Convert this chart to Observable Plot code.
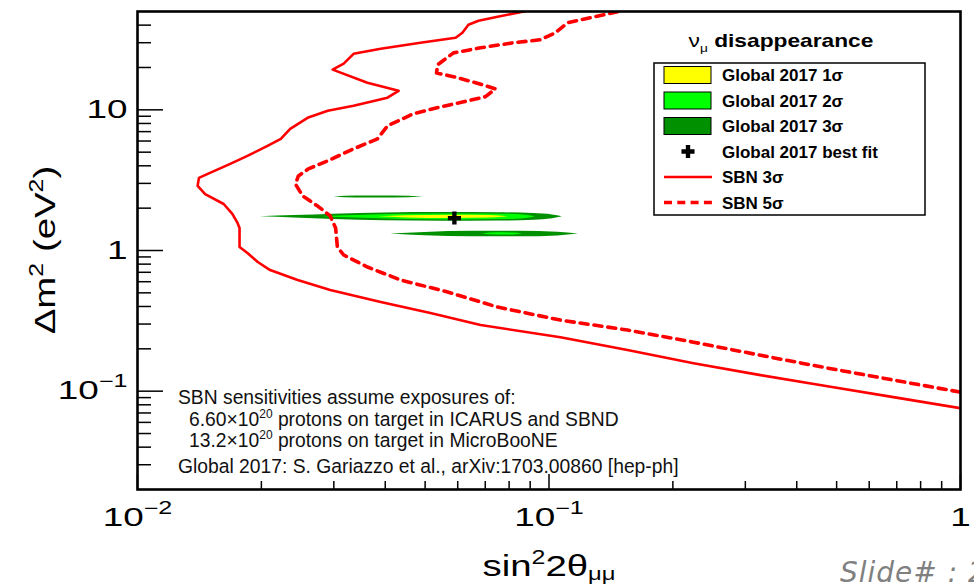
<!DOCTYPE html>
<html><head><meta charset="utf-8">
<script src="https://cdn.jsdelivr.net/npm/d3@7"></script>
<script src="https://cdn.jsdelivr.net/npm/@observablehq/plot@0.6"></script>
<style>
html,body{margin:0;padding:0;background:#fff;overflow:hidden;}
#chart{position:relative;width:974px;height:586px;overflow:hidden;}
</style></head><body><div id="chart"></div>
<script>
// ---- SBN sensitivity contours (sin^2 2theta, dm^2) ----
const sbn3X = [0.0887,0.0750,0.0674,0.0637,0.0616,0.0593,0.0487,0.0390,0.0335,0.0317,0.0298,0.0362,0.0431,0.0405,0.0335,0.0290,0.0259,0.0235,0.0223,0.0207,0.0185,0.0168,0.0150,0.0141,0.0140,0.0146,0.0162,0.0170,0.0175,0.0177,0.0177,0.0185,0.0196,0.0210,0.0245,0.0294,0.0390,0.0515,0.0682,0.1066,0.1551,0.2245,0.3266,0.475,0.687,1.0];
const sbn3Y = [50.6,45.9,43.0,40.3,35.3,32.5,30.0,27.2,25.0,21.3,19.3,15.6,13.65,12.2,10.7,9.84,8.77,7.32,6.22,5.54,4.71,4.13,3.56,3.28,2.88,2.52,2.14,1.82,1.57,1.446,1.059,0.960,0.828,0.726,0.617,0.524,0.430,0.359,0.295,0.242,0.196,0.158,0.130,0.1085,0.0907,0.0757];
const sbn5X = [0.1467,0.1261,0.1109,0.1037,0.0954,0.0820,0.0682,0.0586,0.0536,0.0533,0.0586,0.0663,0.0741,0.0701,0.0620,0.0545,0.0468,0.0405,0.0383,0.0335,0.0290,0.0260,0.0246,0.0242,0.0252,0.0274,0.0294,0.0303,0.0306,0.0317,0.0362,0.0436,0.0567,0.0750,0.1066,0.1551,0.2245,0.3266,0.475,0.687,1.0];
const sbn5Y = [49.8,45.2,41.6,35.3,31.5,30.0,27.6,25.4,20.9,18.3,17.2,15.6,14.1,12.4,11.4,10.5,9.37,7.69,6.22,5.28,4.34,3.80,3.39,2.97,2.44,2.07,1.76,1.446,1.059,0.929,0.763,0.617,0.507,0.396,0.320,0.272,0.223,0.180,0.146,0.120,0.0984];

// ---- Global 2017 allowed islands: x, lower dm^2, upper dm^2 ----
const midC3X  = [0.0199,0.024,0.030,0.040,0.055,0.075,0.092,0.102,0.1078];
const midC3Lo = [1.735,1.70,1.66,1.625,1.615,1.62,1.64,1.68,1.735];
const midC3Hi = [1.735,1.77,1.81,1.85,1.86,1.855,1.83,1.79,1.735];
const midC2X  = [0.0282,0.034,0.045,0.060,0.078,0.088,0.0927];
const midC2Lo = [1.735,1.70,1.66,1.65,1.66,1.69,1.735];
const midC2Hi = [1.735,1.77,1.81,1.82,1.81,1.78,1.735];
const midC1X  = [0.0385,0.045,0.058,0.072,0.0797];
const midC1Lo = [1.735,1.705,1.688,1.70,1.735];
const midC1Hi = [1.735,1.765,1.782,1.77,1.735];
const topC3X  = [0.0300,0.034,0.042,0.0495];
const topC3Lo = [2.40,2.36,2.36,2.40];
const topC3Hi = [2.40,2.44,2.44,2.40];
const botC3X  = [0.0412,0.050,0.065,0.085,0.105,0.1179];
const botC3Lo = [1.31,1.275,1.252,1.25,1.27,1.31];
const botC3Hi = [1.31,1.345,1.37,1.372,1.35,1.31];
const botC2X  = [0.0689,0.075,0.082,0.0862];
const botC2Lo = [1.31,1.287,1.29,1.31];
const botC2Hi = [1.31,1.335,1.332,1.31];
const bestFitX = [0.0589];
const bestFitY = [1.70];

// ---- ticks ----
const xTickValues = [0.01, 0.1, 1];
const xTickLabels = ["10^−2", "10^−1", "1"];
const yTickValues = [0.1, 1, 10];
const yTickLabels = ["10^−1", "1", "10"];
const xMinorTicks = [0.02,0.03,0.04,0.05,0.06,0.07,0.08,0.09,0.2,0.3,0.4,0.5,0.6,0.7,0.8,0.9];
const yMinorTicks = [0.03,0.04,0.05,0.06,0.07,0.08,0.09,0.2,0.3,0.4,0.5,0.6,0.7,0.8,0.9,2,3,4,5,6,7,8,9,20,30,40];

// ---- texts ----
const legendTitle = ["ν", "μ", " disappearance"];
const legendLabels = ["Global 2017 1σ", "Global 2017 2σ", "Global 2017 3σ", "Global 2017 best fit", "SBN 3σ", "SBN 5σ"];
const noteLines = [
  [["SBN sensitivities assume exposures of:"]],
  [["6.60×10"], ["20", "sup"], [" protons on target in ICARUS and SBND"]],
  [["13.2×10"], ["20", "sup"], [" protons on target in MicroBooNE"]],
  [["Global 2017: S. Gariazzo et al., arXiv:1703.00860 [hep-ph]"]]
];

const C1 = "#ffff00", C2 = "#00ff00", C3 = "#009000", RED = "#ff0000";

const toPts = (xs, ys) => xs.map((x, i) => ({x, y: ys[i]}));
const toBand = (id, xs, lo, hi) => xs.map((x, i) => ({id, x, lo: lo[i], hi: hi[i]}));
const sbn3 = toPts(sbn3X, sbn3Y);
const sbn5 = toPts(sbn5X, sbn5Y);
const c3 = [...toBand("m", midC3X, midC3Lo, midC3Hi), ...toBand("t", topC3X, topC3Lo, topC3Hi), ...toBand("b", botC3X, botC3Lo, botC3Hi)];
const c2 = [...toBand("m", midC2X, midC2Lo, midC2Hi), ...toBand("b", botC2X, botC2Lo, botC2Hi)];
const c1 = toBand("m", midC1X, midC1Lo, midC1Hi);
const best = toPts(bestFitX, bestFitY);

const W = 974, H = 586, ML = 137, MR = 14, MT = 11, MB = 97;
const PW = W - ML - MR, PH = H - MT - MB;
const FONT = "'Liberation Sans', Arial, Helvetica, sans-serif";

const svg = Plot.plot({
  width: W, height: H,
  marginLeft: ML, marginRight: MR, marginTop: MT, marginBottom: MB,
  style: {background: "white", fontFamily: FONT, color: "black"},
  x: {type: "log", domain: [0.01, 1]},
  y: {type: "log", domain: [0.02, 50]},
  marks: [
    Plot.areaY(c3, {x: "x", y1: "lo", y2: "hi", z: "id", fill: C3, curve: "monotone-x"}),
    Plot.areaY(c2, {x: "x", y1: "lo", y2: "hi", z: "id", fill: C2, curve: "monotone-x"}),
    Plot.areaY(c1, {x: "x", y1: "lo", y2: "hi", z: "id", fill: C1, curve: "monotone-x"}),
    Plot.line(sbn3, {x: "x", y: "y", stroke: RED, strokeWidth: 2.6, clip: true}),
    Plot.line(sbn5, {x: "x", y: "y", stroke: RED, strokeWidth: 3.6, strokeDasharray: "8,6", clip: true}),
    Plot.dot(best, {x: "x", y: "y", symbol: "cross", r: 5.5, fill: "black", stroke: "none"}),
    Plot.tickY(yTickValues, {y: d => d, insetRight: PW - 26, stroke: "black", strokeWidth: 1.5}),
    Plot.tickY(yMinorTicks, {y: d => d, insetRight: PW - 14, stroke: "black", strokeWidth: 1.5}),
    Plot.tickX(xTickValues, {x: d => d, insetTop: PH - 15, stroke: "black", strokeWidth: 1.5}),
    Plot.tickX(xMinorTicks, {x: d => d, insetTop: PH - 8, stroke: "black", strokeWidth: 1.5}),
    Plot.axisX({ticks: xTickValues, tickSize: 0, tickPadding: 18, label: null,
      tickFormat: d => xTickLabels[xTickValues.indexOf(d)], fontSize: 26}),
    Plot.axisY({ticks: yTickValues, tickSize: 0, tickPadding: 10, label: null,
      tickFormat: d => yTickLabels[yTickValues.indexOf(d)], fontSize: 26}),
    Plot.frame({stroke: "black", strokeWidth: 2.6})
  ]
});
document.getElementById("chart").appendChild(svg);

const root = d3.select(svg);

// rich text helper: parts [{t, off (px, neg = up), s (size factor), w}]
function rich(sel, parts, fs) {
  let cur = 0;
  for (const p of parts) {
    const off = p.off || 0;
    const ts = sel.append("tspan").text(p.t);
    if (off - cur !== 0) ts.attr("dy", off - cur);
    cur = off;
    if (p.s) ts.attr("font-size", fs * p.s);
    if (p.w) ts.attr("font-weight", p.w);
  }
}

// tick labels: superscripts + horizontal stretch
root.selectAll('g[aria-label="x-axis tick label"], g[aria-label="y-axis tick label"]')
  .attr("font-size", 26).attr("fill", "black").attr("font-family", FONT).style("font-family", FONT);
root.selectAll('g[aria-label="x-axis tick label"] text, g[aria-label="y-axis tick label"] text').each(function() {
  const el = d3.select(this);
  const str = el.text();
  const [base, exp] = str.split("^");
  el.text("");
  const parts = [{t: base}];
  if (exp) parts.push({t: exp, off: -12, s: 0.68});
  rich(el, parts, 26);
  el.attr("font-size", 26).attr("font-family", FONT).style("font-family", FONT).style("font-variant", "normal");
  const tr = el.attr("transform") || "";
  el.attr("transform", tr + " scale(1.42,1)");
});

// axis titles
const yt = root.append("text").attr("transform", "translate(55,250) rotate(-90) scale(1.28,1)")
  .attr("text-anchor", "middle").attr("font-size", 30).attr("font-family", FONT).attr("fill", "black");
rich(yt, [{t: "Δm"}, {t: "2", off: -12, s: 0.65}, {t: " (eV"}, {t: "2", off: -12, s: 0.65}, {t: ")"}], 30);
const xt = root.append("text").attr("transform", "translate(549,576) scale(1.28,1)")
  .attr("text-anchor", "middle").attr("font-size", 30).attr("font-family", FONT).attr("fill", "black");
rich(xt, [{t: "sin"}, {t: "2", off: -12, s: 0.65}, {t: "2θ"}, {t: "μμ", off: 4, s: 0.62}], 30);

// note block
const noteX = [178, 189, 189, 178];
const noteY = [404, 425.5, 446.5, 473];
noteLines.forEach((line, i) => {
  const t = root.append("text").attr("x", noteX[i]).attr("y", noteY[i]).attr("text-anchor", "start")
    .attr("font-size", 19.3).attr("font-family", FONT).attr("fill", "#111");
  rich(t, line.map(([s, k]) => k === "sup" ? {t: s, off: -8, s: 0.62} : {t: s}), 19.3);
});

// legend
const lg = root.append("g").attr("font-family", FONT).attr("fill", "black");
const ltitle = lg.append("text").attr("transform", "translate(781,47) scale(1.3,1)")
  .attr("text-anchor", "middle").attr("font-size", 17.5);
rich(ltitle, [{t: legendTitle[0], w: "normal"}, {t: legendTitle[1], off: 5, s: 0.6, w: "normal"}, {t: legendTitle[2], off: 0, w: "bold"}], 17.5);
lg.append("rect").attr("x", 654).attr("y", 63).attr("width", 271).attr("height", 152)
  .attr("fill", "white").attr("stroke", "black").attr("stroke-width", 1.5);
const rowY = [75, 100.5, 126, 151.5, 177, 202.5];
[C1, C2, C3].forEach((c, i) => {
  lg.append("rect").attr("x", 664).attr("y", rowY[i] - 8.5).attr("width", 47).attr("height", 17)
    .attr("fill", c).attr("stroke", "black").attr("stroke-width", 1);
});
lg.append("path").attr("d", d3.symbol(d3.symbolCross, 5.5 * 5.5 * Math.PI)()).attr("transform", `translate(688,${rowY[3]})`).attr("fill", "black");
lg.append("line").attr("x1", 664).attr("x2", 712).attr("y1", rowY[4]).attr("y2", rowY[4]).attr("stroke", RED).attr("stroke-width", 2.6);
lg.append("line").attr("x1", 664).attr("x2", 712).attr("y1", rowY[5]).attr("y2", rowY[5]).attr("stroke", RED).attr("stroke-width", 3.6).attr("stroke-dasharray", "8,5.3");
legendLabels.forEach((s, i) => {
  lg.append("text").attr("x", 722).attr("y", rowY[i] + 6.3).attr("text-anchor", "start")
    .attr("font-size", 17).attr("font-weight", "bold").text(s);
});

// slide footer
root.append("text").attr("x", 840).attr("y", 582).attr("text-anchor", "start").attr("font-size", 28).attr("font-style", "italic")
  .attr("letter-spacing", 1).attr("font-family", "'DejaVu Sans', sans-serif").attr("fill", "#808080").text("Slide# : 2");
</script>
</body></html>
